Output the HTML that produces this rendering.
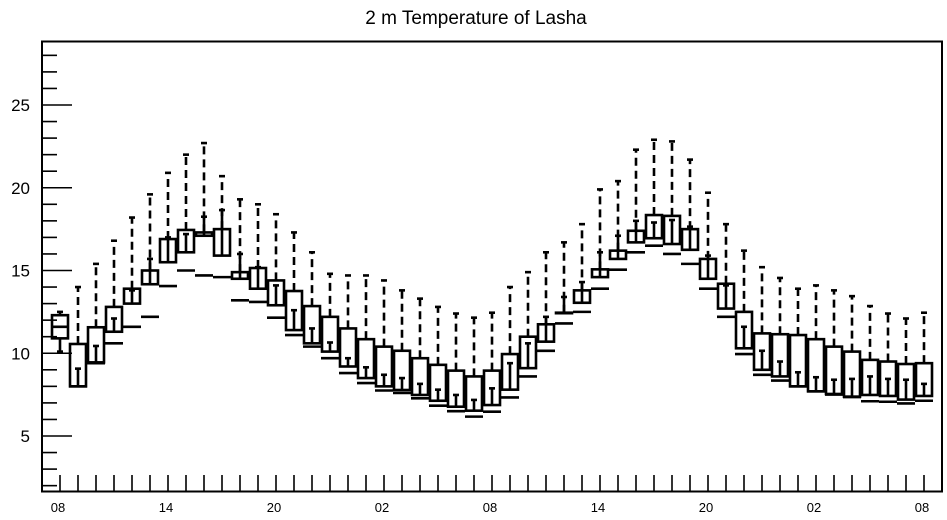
<!DOCTYPE html>
<html><head><meta charset="utf-8"><style>
html,body{margin:0;padding:0;background:#fff;}
svg{display:block;font-family:"Liberation Sans",sans-serif;}
</style></head><body>
<svg id="chart" width="947" height="520" viewBox="0 0 947 520" xmlns="http://www.w3.org/2000/svg">
<text x="476" y="24" font-size="19" text-anchor="middle">2 m Temperature of Lasha</text>
<g id="plot"></g>
<rect x="42" y="41.5" width="900" height="450" fill="none" stroke="#000" stroke-width="2"/>
</svg>
<script>
const timeLabels = ["08","14","20","02","08","14","20","02","08"];
const yTicks = [5,10,15,20,25];
const mins = [10.1,9.07,10.44,12.1,13.8,15.7,17.0,17.2,18.25,18.65,16.0,15.2,14.1,12.6,11.5,10.65,9.7,9.15,8.7,8.5,8.15,7.8,7.48,7.18,7.88,9.4,10.6,12.2,13.4,14.3,16.1,17.1,18.0,17.9,18.05,17.65,15.9,14.1,11.6,10.15,9.5,8.85,8.55,8.4,8.45,8.6,8.45,8.4,8.15];
const q1s = [10.9,8.0,9.45,11.3,13.0,14.17,15.5,16.1,17.1,15.9,14.5,13.9,12.9,11.4,10.6,10.1,9.2,8.5,8.0,7.78,7.48,7.13,6.77,6.53,6.87,7.8,9.1,10.7,12.45,13.05,14.6,15.7,16.7,16.95,16.6,16.25,14.5,12.7,10.3,9.0,8.6,8.0,7.7,7.54,7.38,7.48,7.42,7.2,7.42];
const meds = [11.6,8.0,9.4,10.6,11.6,12.2,14.06,15.0,14.7,14.6,13.2,13.1,12.15,11.1,10.4,9.7,8.8,8.2,7.75,7.6,7.28,6.83,6.5,6.17,6.47,7.33,8.6,10.15,11.8,12.5,13.9,15.05,16.1,16.5,16.0,15.4,13.9,12.2,9.95,8.7,8.35,8.0,7.7,7.5,7.35,7.1,7.07,6.97,7.13];
const q3s = [12.3,10.56,11.57,12.8,13.9,15.0,16.9,17.45,17.3,17.5,14.9,15.15,14.4,13.76,12.85,12.2,11.5,10.85,10.4,10.15,9.7,9.3,8.95,8.6,8.95,9.95,11.0,11.75,12.45,13.8,15.07,16.2,17.4,18.35,18.3,17.5,15.7,14.2,12.5,11.2,11.15,11.1,10.85,10.4,10.1,9.6,9.5,9.35,9.4];
const maxs = [12.5,14.0,15.4,16.8,18.2,19.6,20.9,22.0,22.7,20.7,19.3,19.0,18.4,17.3,16.1,14.8,14.7,14.7,14.4,13.8,13.3,12.8,12.4,12.15,12.45,14.0,14.9,16.1,16.7,17.8,19.9,20.4,22.3,22.9,22.8,21.7,19.7,17.8,16.2,15.2,14.55,13.9,14.1,13.8,13.45,12.85,12.4,12.1,12.45];

const NS = "http://www.w3.org/2000/svg";
const plot = document.getElementById("plot");
const chart = document.getElementById("chart");
function yScale(v){ return 436 - (v - 5) * 16.55; }
function xScale(i){ return 60 + i * 18; }
function mk(tag, attrs, parent){
  const e = document.createElementNS(NS, tag);
  for (const k in attrs) e.setAttribute(k, attrs[k]);
  (parent || plot).appendChild(e);
  return e;
}
// y ticks
for (let v = 2; v <= 28; v++) {
  const major = v % 5 === 0;
  const t = mk("line", {x1:42, x2: major ? 72 : 57, y1: yScale(v), y2: yScale(v), stroke:"#000", "stroke-width":1.6});
  
  
}
yTicks.forEach(v => {
  const t = mk("text", {x:30, y: yScale(v) + 6, "font-size":17, "text-anchor":"end"}, chart);
  t.textContent = String(v);
  
  
});
// x ticks
for (let i = 0; i < mins.length; i++) {
  const t = mk("line", {x1: xScale(i), x2: xScale(i), y1: 491, y2: 475, stroke:"#000", "stroke-width":1.6});
  
  
}
timeLabels.forEach((lab, j) => {
  const t = mk("text", {x: xScale(j * 6) - 2, y: 512, "font-size":13, "text-anchor":"middle"}, chart);
  t.textContent = lab;
  
  
});
// boxes
const hw = 8, cw = 3;
for (let i = 0; i < mins.length; i++) {
  const x = xScale(i);
  const g = mk("g", {});
  
  
  const yq1 = yScale(q1s[i]), yq3 = yScale(q3s[i]);
  const top = Math.min(yq1, yq3), bot = Math.max(yq1, yq3);
  const uw = mk("line", {x1:x, x2:x, y1: yq3, y2: yScale(maxs[i]), stroke:"#000", "stroke-width":2.6, "stroke-dasharray":"8,5"}, g);
  
  
  const uc = mk("line", {x1:x-cw, x2:x+cw, y1: yScale(maxs[i]), y2: yScale(maxs[i]), stroke:"#000", "stroke-width":2.6}, g);
  
  
  const lw = mk("line", {x1:x, x2:x, y1: yq1, y2: yScale(mins[i]), stroke:"#000", "stroke-width":2.6}, g);
  
  
  const lc = mk("line", {x1:x-cw, x2:x+cw, y1: yScale(mins[i]), y2: yScale(mins[i]), stroke:"#000", "stroke-width":2.6}, g);
  
  
  const r = mk("rect", {x: x-hw, y: top, width: hw*2, height: Math.max(bot-top, 0.5), fill:"none", stroke:"#000", "stroke-width":2.6}, g);
  
  
  const m = mk("line", {x1:x-hw-1, x2:x+hw+1, y1: yScale(meds[i]), y2: yScale(meds[i]), stroke:"#000", "stroke-width":2.6}, g);
  
  
}
</script>
</body></html>
